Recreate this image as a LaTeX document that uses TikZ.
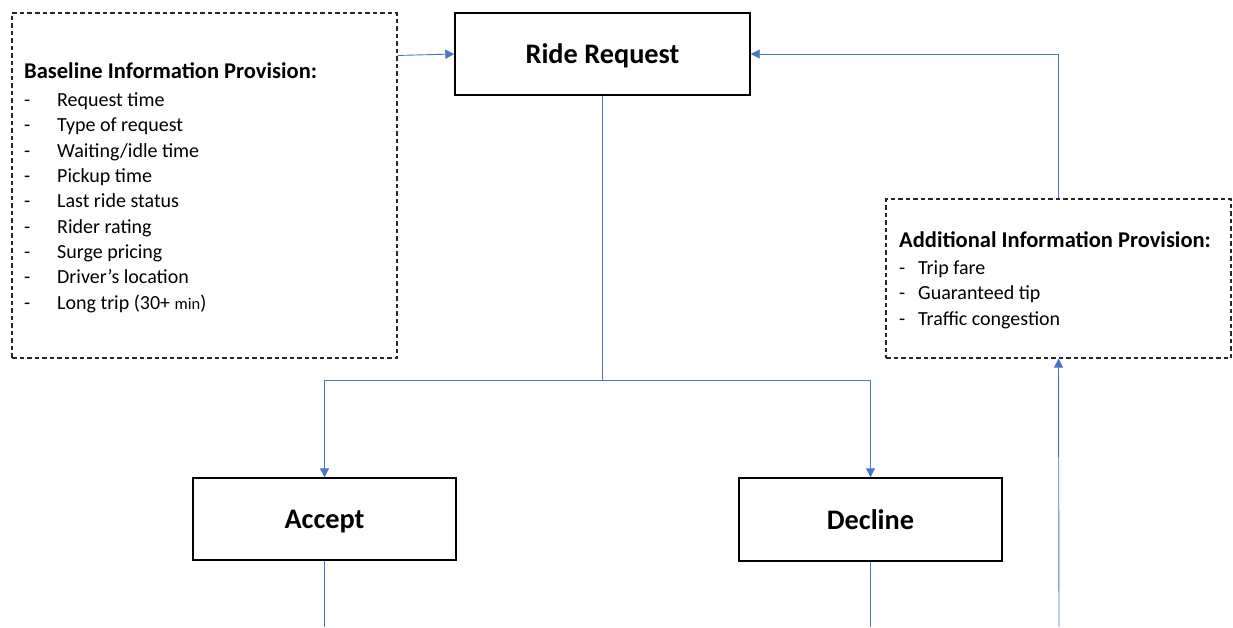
\documentclass[tikz,border=0pt]{standalone}
\usepackage{fontspec}
\setmainfont{Carlito}
\usetikzlibrary{arrows.meta}
\definecolor{linkblue}{RGB}{72,117,200}
\begin{document}
\begin{tikzpicture}[x=1pt,y=-1pt,
  solidbox/.style={draw=black, line width=1.4pt, fill=white, inner sep=0pt, text depth=0pt, font=\bfseries\fontsize{28.3}{33}\selectfont},
  infobox/.style={draw=black!85, line width=1.1pt, dash pattern=on 4.5pt off 3pt, inner sep=0pt},
  infotext/.style={anchor=base west, align=left, inner sep=0pt, font=\fontsize{20}{25.3}\selectfont},
  link/.style={draw=linkblue, line width=0.9pt},
  arrowlink/.style={link, -{Triangle[length=9pt,width=9pt]}}]
\useasboundingbox (0,0) rectangle (1233,627);

% boxes
\node[solidbox, minimum width=295pt, minimum height=82pt] (req) at (602.5,54) {Ride Request};
\node[solidbox, minimum width=263pt, minimum height=82pt] (acc) at (324.5,519) {Accept};
\node[solidbox, minimum width=263pt, minimum height=83pt] (dec) at (870.5,519.5) {Decline};
\node[infobox, minimum width=385pt, minimum height=345pt] (bip) at (204.5,185.5) {};
\node[infobox, minimum width=345pt, minimum height=159pt] (aip) at (1058.5,278.5) {};

% texts (anchored at the baseline of the last line)
\node[infotext] (biptext) at (24,309) {\textbf{\fontsize{22.5}{25.3}\selectfont Baseline Information Provision:}\\[2.7pt]
\makebox[33pt][l]{-}Request time\\
\makebox[33pt][l]{-}Type of request\\
\makebox[33pt][l]{-}Waiting/idle time\\
\makebox[33pt][l]{-}Pickup time\\
\makebox[33pt][l]{-}Last ride status\\
\makebox[33pt][l]{-}Rider rating\\
\makebox[33pt][l]{-}Surge pricing\\
\makebox[33pt][l]{-}Driver’s location\\
\makebox[33pt][l]{-}Long trip (30+ {\fontsize{16.5}{20}\selectfont min})};
\node[infotext] (aiptext) at (899,325) {\textbf{\fontsize{22.5}{25.3}\selectfont Additional Information Provision:}\\[2pt]
\makebox[19pt][l]{-}Trip fare\\
\makebox[19pt][l]{-}Guaranteed tip\\
\makebox[19pt][l]{-}Traffic congestion};

% connectors
\coordinate (split) at (602.5,380);
\coordinate (endacc) at (324.5,627);
\coordinate (enddec) at (870.5,627);
\coordinate (endaip) at (1059,627);

\draw[arrowlink] ([yshift=-43pt]bip.north east) -- (req.west);
\draw[arrowlink] (aip.north) |- (req.east);
\draw[link] (req.south) -- (split);
\draw[arrowlink] (split) -| (acc.north);
\draw[arrowlink] (split) -| (dec.north);
\draw[link] (acc.south) -- (endacc);
\draw[link] (dec.south) -- (enddec);
\draw[arrowlink] (endaip) -- (aip.south);
\end{tikzpicture}
\end{document}
